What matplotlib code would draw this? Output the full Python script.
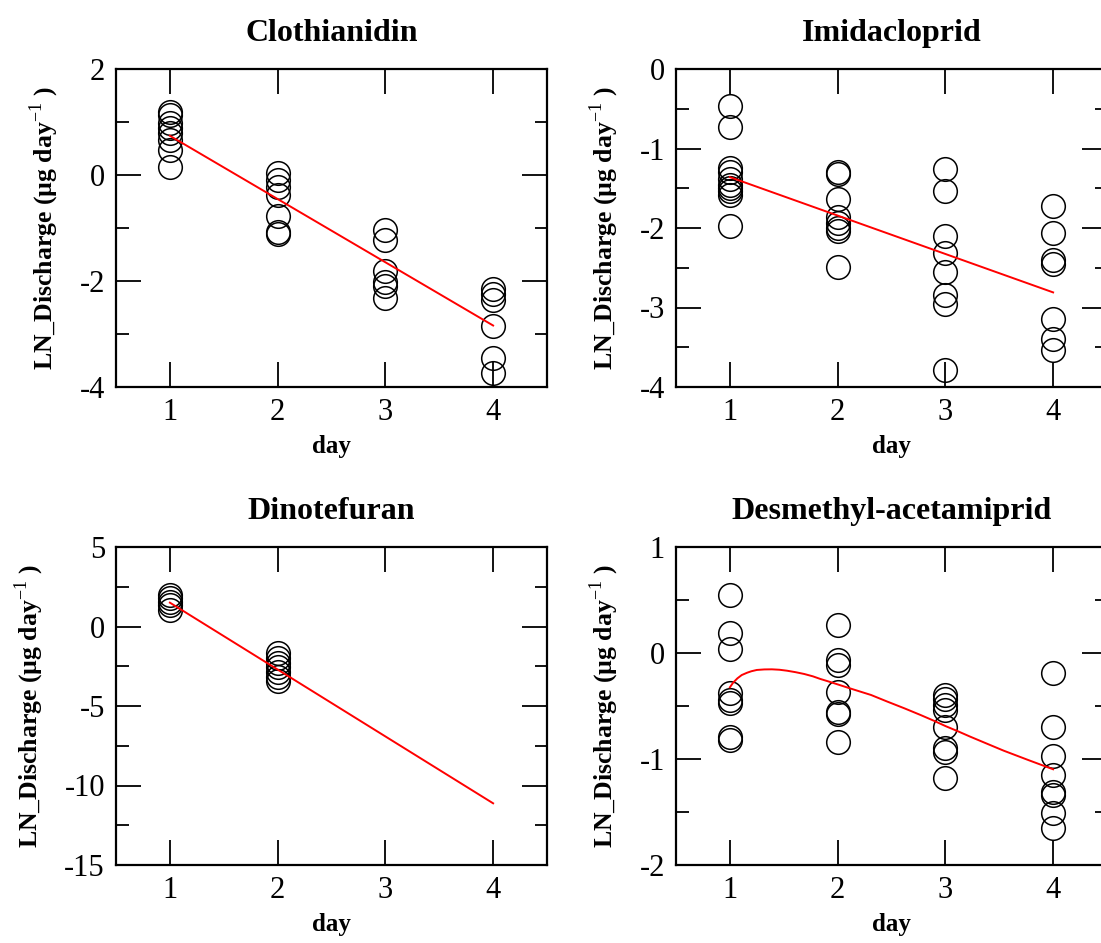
import numpy as np
import matplotlib.pyplot as plt
from matplotlib.ticker import MultipleLocator

plt.rcParams["font.family"] = ["Liberation Serif", "DejaVu Serif"]
plt.rcParams["mathtext.fontset"] = "custom"
plt.rcParams["mathtext.rm"] = "Liberation Serif"
plt.rcParams["mathtext.bf"] = "Liberation Serif:bold"
plt.rcParams["axes.unicode_minus"] = False

# measured values, one list per day
cloth_days = [1, 2, 3, 4]
cloth_vals = [
    [1.19, 1.13, 0.98, 0.88, 0.79, 0.66, 0.47, 0.15],
    [0.04, -0.09, -0.22, -0.38, -0.77, -1.07, -1.11],
    [-1.03, -1.23, -1.82, -2.01, -2.10, -2.33],
    [-2.16, -2.24, -2.35, -2.84, -3.46, -3.74],
]
cloth_fit_x = [1, 4]
cloth_fit_y = [0.74, -2.84]

imid_days = [1, 2, 3, 4]
imid_vals = [
    [-0.46, -0.73, -1.25, -1.29, -1.38, -1.46, -1.50, -1.54, -1.58, -1.97],
    [-1.29, -1.32, -1.63, -1.86, -1.94, -2.00, -2.04, -2.49],
    [-1.26, -1.54, -2.10, -2.31, -2.55, -2.84, -2.95, -3.79],
    [-1.72, -2.06, -2.40, -2.45, -3.14, -3.40, -3.53],
]
imid_fit_x = [1, 4]
imid_fit_y = [-1.36, -2.81]

dino_days = [1, 2]
dino_vals = [
    [1.98, 1.77, 1.56, 1.35, 1.04],
    [-1.69, -2.00, -2.32, -2.53, -2.84, -3.16, -3.41],
]
dino_fit_x = [1, 4]
dino_fit_y = [1.50, -11.12]

desm_days = [1, 2, 3, 4]
desm_vals = [
    [0.55, 0.19, 0.04, -0.38, -0.44, -0.47, -0.79, -0.82],
    [0.26, -0.07, -0.11, -0.37, -0.56, -0.58, -0.84],
    [-0.40, -0.43, -0.49, -0.54, -0.70, -0.90, -0.93, -1.18],
    [-0.19, -0.70, -0.97, -1.15, -1.31, -1.34, -1.51, -1.65],
]
desm_fit_x = [1.0, 1.03, 1.07, 1.11, 1.16, 1.2, 1.25, 1.32, 1.39, 1.46, 1.53,
              1.61, 1.69, 1.77, 1.84, 1.92, 2.0, 2.15, 2.31, 2.46, 2.62, 2.77,
              2.9, 3.0, 3.12, 3.23, 3.38, 3.54, 3.77, 4.0]
desm_fit_y = [-0.324, -0.28, -0.239, -0.208, -0.186, -0.172, -0.160, -0.155,
              -0.154, -0.158, -0.167, -0.181, -0.198, -0.220, -0.245, -0.270,
              -0.296, -0.345, -0.396, -0.458, -0.522, -0.585, -0.642, -0.689,
              -0.740, -0.789, -0.853, -0.921, -1.01, -1.097]

panels = [
    ("Clothianidin", cloth_days, cloth_vals, cloth_fit_x, cloth_fit_y, (-4, 2), 2, 1),
    ("Imidacloprid", imid_days, imid_vals, imid_fit_x, imid_fit_y, (-4, 0), 1, 0.5),
    ("Dinotefuran", dino_days, dino_vals, dino_fit_x, dino_fit_y, (-15, 5), 5, 2.5),
    ("Desmethyl-acetamiprid", desm_days, desm_vals, desm_fit_x, desm_fit_y, (-2, 1), 1, 0.5),
]

W, H = 1101, 943
fig = plt.figure(figsize=(W / 100, H / 100), dpi=100)
boxes = [(116, 69), (676, 69), (116, 547), (676, 547)]
aw, ah = 431, 318

for (title, days, vals, fx, fy, ylim, major, minor), (left, top) in zip(panels, boxes):
    ax = fig.add_axes([left / W, 1 - (top + ah) / H, aw / W, ah / H])
    for d, v in zip(days, vals):
        ax.plot([d] * len(v), v, "o", ms=17, mfc="none", mec="black", mew=1.1,
                clip_on=False, zorder=2)
    ax.plot(fx, fy, color="red", lw=1.4, zorder=3)
    ax.set_xlim(0.5, 4.5)
    ax.set_ylim(*ylim)
    ax.xaxis.set_major_locator(MultipleLocator(1))
    ax.yaxis.set_major_locator(MultipleLocator(major))
    ax.yaxis.set_minor_locator(MultipleLocator(minor))
    ax.tick_params(which="both", direction="in", top=True, right=True,
                   labelsize=22, width=1.3)
    ax.tick_params(which="major", length=18, pad=8)
    ax.tick_params(which="minor", length=9)
    for s in ax.spines.values():
        s.set_linewidth(1.6)
    ax.set_title(title, fontsize=23, fontweight="bold", pad=20)
    ax.set_xlabel("day", fontsize=18, fontweight="bold", labelpad=6)
    ax.set_ylabel(r"LN_Discharge (µg day$^{-1}$ )", fontsize=18.5,
                  fontweight="bold", labelpad=13)

fig.savefig("out.png", dpi=100)
